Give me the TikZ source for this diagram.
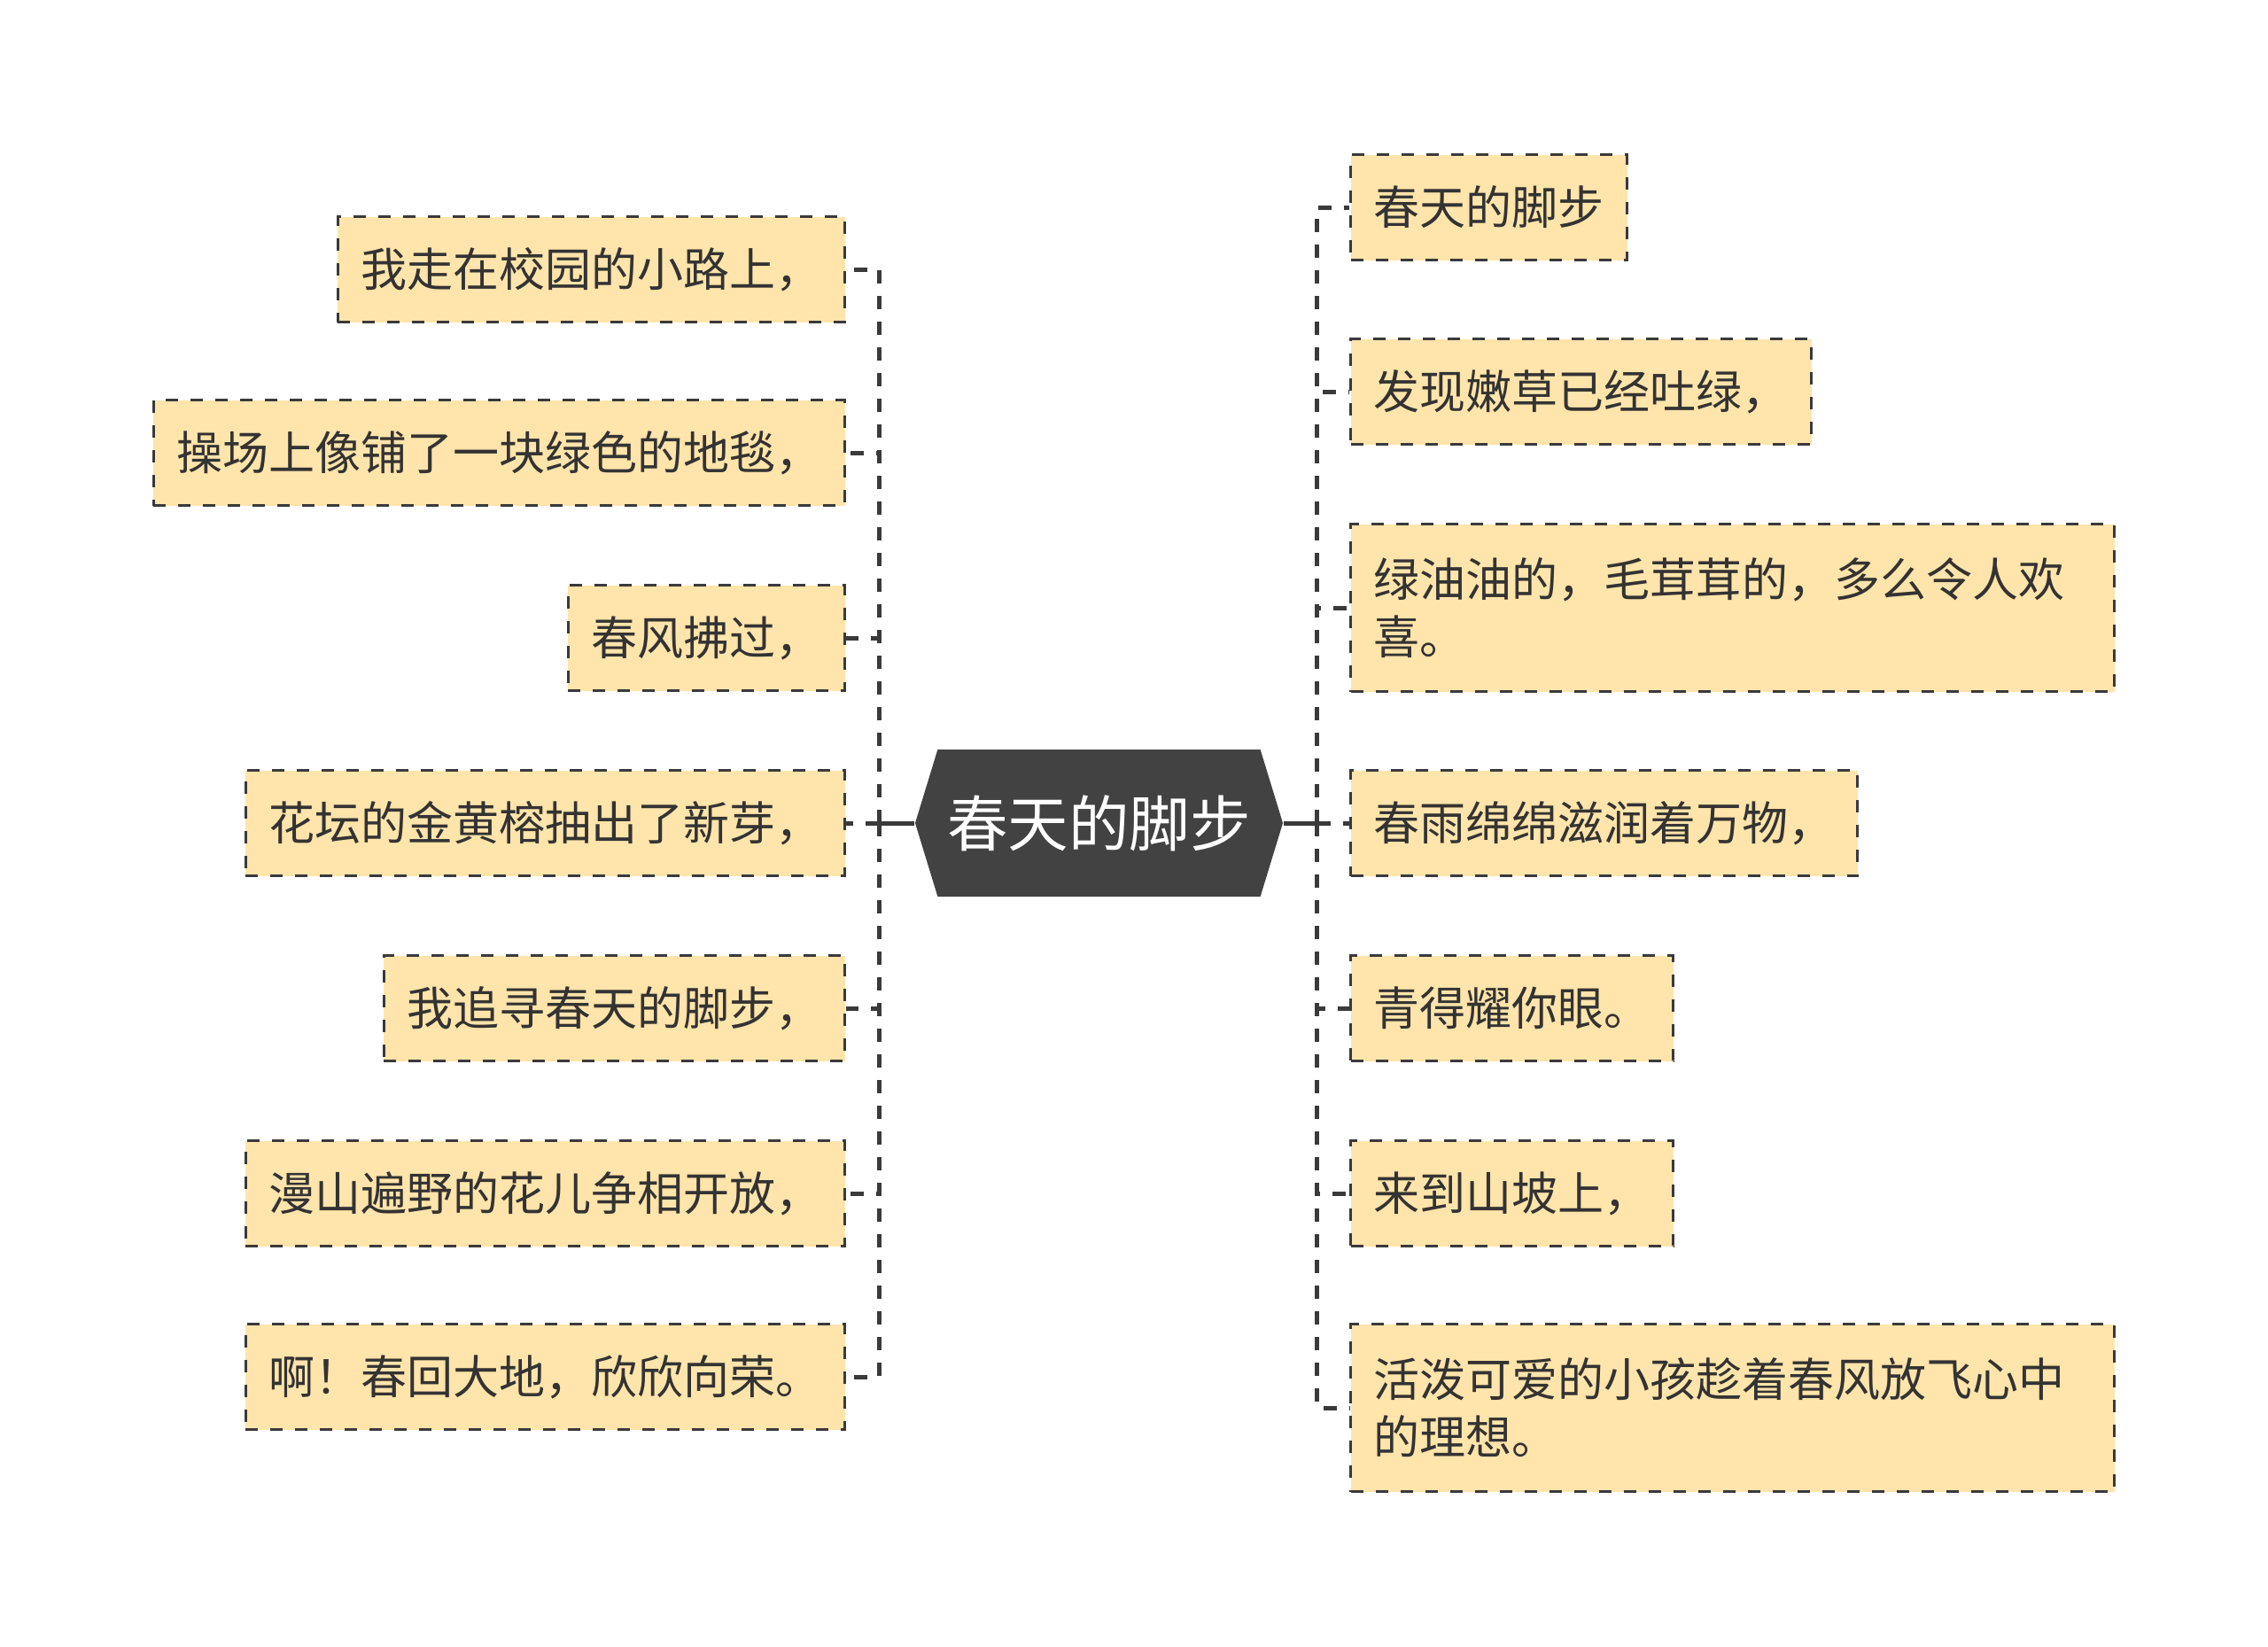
\documentclass[tikz,border=0pt]{standalone}
\usepackage{fontspec}
\setmainfont{Noto Sans CJK SC}
\usepackage{tikz}
\usetikzlibrary{positioning, shapes.symbols}
\usepackage{xcolor}
\definecolor{boxfill}{HTML}{FFE4AB}
\definecolor{linegray}{HTML}{3A3A3A}
\definecolor{hubgray}{HTML}{424242}
\definecolor{textgray}{HTML}{333333}

\begin{document}
\begin{tikzpicture}[
    leaf/.style={rectangle, draw=linegray, line width=0.03cm, dash pattern=on 0.14cm off 0.14cm,
        fill=boxfill, text=textgray, minimum height=1.19cm, inner xsep=0.26cm, inner ysep=0pt,
        font={\fontsize{14.8pt}{18.5pt}\selectfont}},
    longleaf/.style={leaf, text width=8.1cm, align=left, minimum height=1.89cm},
    hubnode/.style={signal, signal to=west and east, signal pointer angle=146, fill=hubgray,
        text=white, minimum width=4.15cm, minimum height=1.66cm, inner sep=0pt,
        font={\fontsize{19.5pt}{23pt}\selectfont}},
    link/.style={draw=linegray, line width=0.05cm, dash pattern=on 0.15cm off 0.14cm},
    stem/.style={draw=linegray, line width=0.05cm}
]
    \useasboundingbox (0, 0) rectangle (25.6, -18.59);

    % Central topic
    \node[hubnode] (hub) at (12.405, -9.29) {春天的脚步};

    % Left branch
    \node[leaf, anchor=east] (l1) at (9.55, -3.04) {我走在校园的小路上，};
    \node[leaf, anchor=east] (l2) at (9.55, -5.11) {操场上像铺了一块绿色的地毯，};
    \node[leaf, anchor=east] (l3) at (9.55, -7.20) {春风拂过，};
    \node[leaf, anchor=east] (l4) at (9.55, -9.29) {花坛的金黄榕抽出了新芽，};
    \node[leaf, anchor=east] (l5) at (9.55, -11.38) {我追寻春天的脚步，};
    \node[leaf, anchor=east] (l6) at (9.55, -13.47) {漫山遍野的花儿争相开放，};
    \node[leaf, anchor=east] (l7) at (9.55, -15.54) {啊！春回大地，欣欣向荣。};

    % Right branch
    \node[leaf, anchor=west] (r1) at (15.23, -2.34) {春天的脚步};
    \node[leaf, anchor=west] (r2) at (15.23, -4.42) {发现嫩草已经吐绿，};
    \node[longleaf, anchor=west] (r3) at (15.23, -6.86) {绿油油的，毛茸茸的，多么令人欢\\喜。};
    \node[leaf, anchor=west] (r4) at (15.23, -9.29) {春雨绵绵滋润着万物，};
    \node[leaf, anchor=west] (r5) at (15.23, -11.38) {青得耀你眼。};
    \node[leaf, anchor=west] (r6) at (15.23, -13.47) {来到山坡上，};
    \node[longleaf, anchor=west] (r7) at (15.23, -15.89) {活泼可爱的小孩趁着春风放飞心中\\的理想。};

    % Trunk points
    \coordinate[left=0.4cm of hub.west] (ltrunk);
    \coordinate[right=0.38cm of hub.east] (rtrunk);

    % Connectors
    \draw[stem] (hub.west) -- (ltrunk);
    \draw[stem] (hub.east) -- (rtrunk);
    \draw[link] (ltrunk) |- (l1.east);
    \draw[link] (ltrunk) |- (l2.east);
    \draw[link] (ltrunk) |- (l3.east);
    \draw[link] (ltrunk) |- (l4.east);
    \draw[link] (ltrunk) |- (l5.east);
    \draw[link] (ltrunk) |- (l6.east);
    \draw[link] (ltrunk) |- (l7.east);
    \draw[link] (rtrunk) |- (r1.west);
    \draw[link] (rtrunk) |- (r2.west);
    \draw[link] (rtrunk) |- (r3.west);
    \draw[link] (rtrunk) |- (r4.west);
    \draw[link] (rtrunk) |- (r5.west);
    \draw[link] (rtrunk) |- (r6.west);
    \draw[link] (rtrunk) |- (r7.west);
\end{tikzpicture}
\end{document}
